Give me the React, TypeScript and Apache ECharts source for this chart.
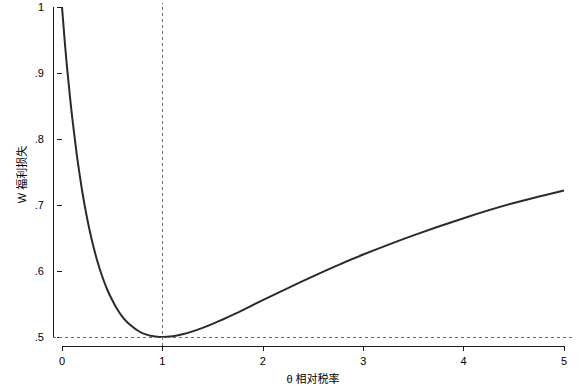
import React, { useEffect, useRef } from "react";
import * as echarts from "echarts";

// θ (relative tax rate) and W (welfare loss)
const thetaValues = [0, 0.03, 0.05, 0.08, 0.1, 0.15, 0.2, 0.25, 0.3, 0.35, 0.4, 0.45, 0.5, 0.55, 0.6, 0.65, 0.7, 0.75, 0.8, 0.85, 0.9, 0.95, 1.0, 1.1, 1.2, 1.3, 1.4, 1.5, 1.6, 1.75, 2.0, 2.25, 2.5, 2.75, 3.0, 3.5, 4.0, 4.5, 5.0];
const welfareLoss = [1.0, 0.943, 0.909, 0.863, 0.835, 0.773, 0.722, 0.68, 0.645, 0.616, 0.592, 0.572, 0.556, 0.542, 0.531, 0.5225, 0.516, 0.5102, 0.506, 0.5033, 0.5014, 0.5003, 0.5, 0.5011, 0.5041, 0.5085, 0.5139, 0.52, 0.5266, 0.537, 0.556, 0.574, 0.592, 0.609, 0.625, 0.654, 0.68, 0.703, 0.722];

const xTicks = [0, 1, 2, 3, 4, 5];
const xTickLabels = ["0", "1", "2", "3", "4", "5"];
const yTicks = [0.5, 0.6, 0.7, 0.8, 0.9, 1];
const yTickLabels = [".5", ".6", ".7", ".8", ".9", "1"];

const xTitle = "θ 相对税率";
const yTitle = "W 福利损失";

const refMin = 0.5; // horizontal reference line
const refTheta = 1; // vertical reference line

// Stata-like plot region padding beyond the data range
const X_MIN = -0.0896;
const X_MAX = 5.0896;
const Y_MIN = 0.4864;
const Y_MAX = 1.006;

export default function App() {
  const ref = useRef<HTMLDivElement>(null);
  useEffect(() => {
    if (!ref.current) return;
    const chart = echarts.init(ref.current, undefined, { renderer: "svg" });
    const font = "'Liberation Sans', Arial, 'Noto Sans CJK SC', sans-serif";
    const axisColor = "#1a1a1a";
    const dashStyle = { color: "#6e6e6e", width: 1, type: [3, 3] as any };
    const solidAxis = { color: axisColor, width: 1, type: "solid" as any };
    chart.setOption({
      animation: false,
      backgroundColor: "#ffffff",
      grid: { left: 53, right: 9, top: 3, bottom: 40, containLabel: false, outerBoundsMode: "none" },
      xAxis: {
        type: "value",
        min: X_MIN,
        max: X_MAX,
        name: xTitle,
        nameLocation: "middle",
        nameGap: 27,
        nameMoveOverlap: false,
        nameTextStyle: { fontFamily: font, fontSize: 11, color: "#000" },
        axisLine: { show: false },
        splitLine: { show: false },
        axisTick: { show: true, length: 5, customValues: xTicks, lineStyle: { color: axisColor } },
        axisLabel: {
          customValues: xTicks,
          margin: 9,
          fontFamily: font,
          fontSize: 11,
          color: "#000",
          formatter: (v: number) => xTickLabels[xTicks.indexOf(Math.round(v))] ?? "",
        },
      },
      yAxis: {
        type: "value",
        min: Y_MIN,
        max: Y_MAX,
        name: yTitle,
        nameLocation: "middle",
        nameGap: 26,
        nameMoveOverlap: false,
        nameTextStyle: { fontFamily: font, fontSize: 11, color: "#000" },
        axisLine: { show: false },
        splitLine: { show: false },
        axisTick: { show: true, length: 5, customValues: yTicks, lineStyle: { color: axisColor } },
        axisLabel: {
          customValues: yTicks,
          margin: 9,
          fontFamily: font,
          fontSize: 11,
          color: "#000",
          formatter: (v: number) => {
            const i = yTicks.findIndex((t) => Math.abs(t - v) < 1e-6);
            return i >= 0 ? yTickLabels[i] : "";
          },
        },
      },
      series: [
        {
          type: "line",
          data: thetaValues.map((t, i) => [t, welfareLoss[i]]),
          smooth: 0.2,
          showSymbol: false,
          symbol: "none",
          clip: false,
          lineStyle: { color: "#2b2b2b", width: 2 },
          markLine: {
            silent: true,
            symbol: ["none", "none"],
            label: { show: false },
            animation: false,
            data: [
              [
                { coord: [X_MIN, refMin], lineStyle: dashStyle },
                { coord: [X_MAX, refMin] },
              ],
              [
                { coord: [refTheta, Y_MIN], lineStyle: dashStyle },
                { coord: [refTheta, Y_MAX] },
              ],
              [
                { coord: [xTicks[0], Y_MIN], lineStyle: solidAxis },
                { coord: [xTicks[xTicks.length - 1], Y_MIN] },
              ],
              [
                { coord: [X_MIN, yTicks[0]], lineStyle: solidAxis },
                { coord: [X_MIN, yTicks[yTicks.length - 1]] },
              ],
            ],
          },
        },
      ],
    });
    return () => chart.dispose();
  }, []);
  return (
    <div
      ref={ref}
      style={{ position: "fixed", left: 0, top: 0, width: 582, height: 386, background: "#fff" }}
    />
  );
}
